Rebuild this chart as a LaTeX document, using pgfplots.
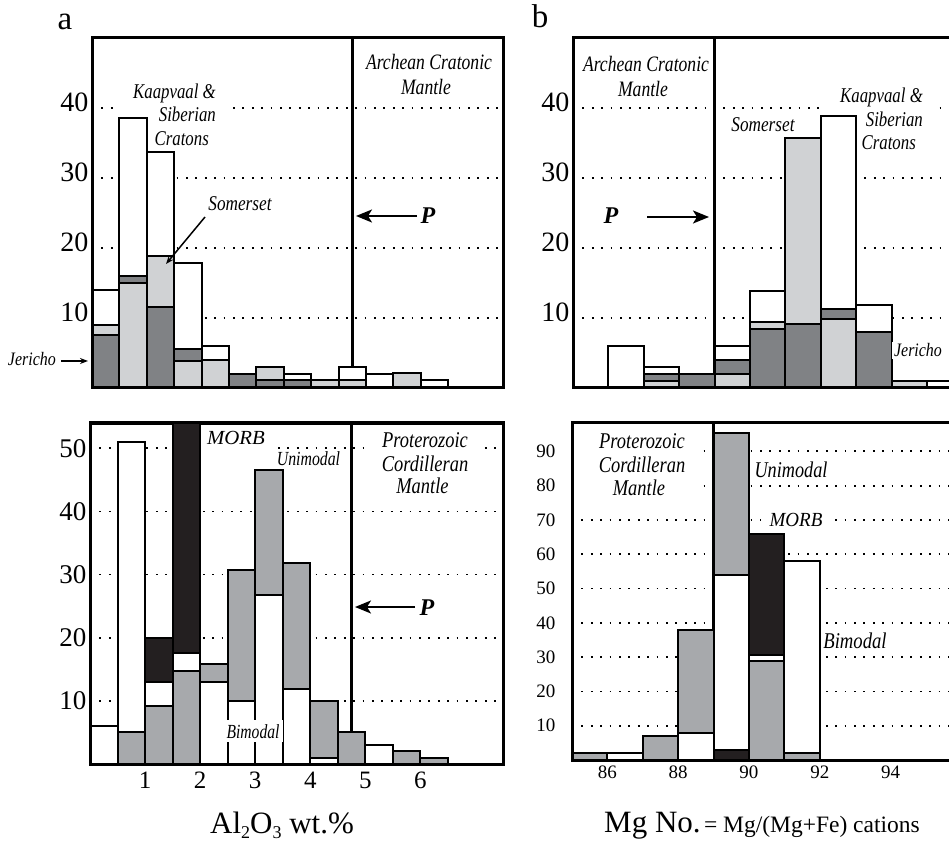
\documentclass[border=0pt]{standalone}
\usepackage{fontspec}
\setmainfont{Liberation Serif}
\usepackage{graphicx}
\usepackage{pgfplots}
\pgfplotsset{compat=1.18}
\usetikzlibrary{arrows.meta}
\definecolor{lg}{HTML}{D0D2D4}
\definecolor{dg}{HTML}{808285}
\definecolor{mg}{HTML}{A7A9AC}
\definecolor{bk}{HTML}{231F20}
\newcommand{\fs}[1]{\fontsize{#1}{#1}\selectfont}
\newcommand{\sx}[2][0.8]{\scalebox{#1}[1]{#2}}
\pgfplotsset{
  panel/.style={
    scale only axis, axis on top=false, ymin=0,
    major tick length=0pt,
    ymajorgrids,
    major grid style={line width=1.8pt, dash pattern=on 1.8pt off 7.6pt, black},
    axis line style={line width=3pt},
    xtick=\empty,
    /pgf/number format/assume math mode=true,
    clip=true,
  },
  b/.style={ybar, bar shift=0pt, draw=black, line width=2pt, fill=#1},
}
\tikzset{
  lab/.style={fill=white, inner sep=2pt, anchor=base, font=\fs{#1}\itshape},
  parr/.style={line width=2pt, -{Stealth[length=16pt,width=13pt,inset=4pt]}},
  sarr/.style={line width=1.5pt, -{Stealth[length=8pt,width=6pt]}},
}
\begin{document}
\begin{tikzpicture}[x=1pt,y=1pt]
% ---------- top-left ----------
\begin{axis}[panel, at={(92pt,453pt)}, anchor=south west, width=411pt, height=350pt,
  xmin=0, xmax=7.5, ymax=50, bar width=0.5, ytick={10,20,30,40},
  yticklabel style={font=\fs{28}, yshift=6pt}]
\addplot[line width=2.8pt] coordinates {(4.75,0) (4.75,50)};
\addplot[b=white] coordinates {(0.25,14) (0.75,38.6) (1.25,33.7) (1.75,17.9) (2.25,6) (3.75,2) (4.75,3) (5.25,2) (6.25,1.2)};
\addplot[b=dg] coordinates {(2.75,2)};
\addplot[b=lg] coordinates {(3.25,3) (4.25,1.1) (5.75,2.1)};
\addplot[b=lg] coordinates {(0.25,9) (1.25,18.8) (2.25,4) (4.75,1.2)};
\addplot[b=dg] coordinates {(0.75,16) (1.75,5.5) (3.25,1.1) (3.75,1.1)};
\addplot[b=dg] coordinates {(0.25,7.5) (1.25,11.6)};
\addplot[b=lg] coordinates {(0.75,15) (1.75,3.9)};
\end{axis}
% ---------- top-right ----------
\begin{axis}[panel, at={(573pt,453pt)}, anchor=south west, width=382pt, height=350pt,
  xmin=85, xmax=95.79, ymax=50, bar width=1, ytick={10,20,30,40},
  yticklabel style={font=\fs{28}, yshift=6pt}]
\addplot[line width=2.8pt] coordinates {(89,0) (89,50)};
\addplot[b=white] coordinates {(86.5,6) (87.5,3) (89.5,6) (90.5,13.8) (92.5,38.8) (93.5,11.8) (95.5,1)};
\addplot[b=dg] coordinates {(88.5,2)};
\addplot[b=lg] coordinates {(91.5,35.7) (94.5,1)};
\addplot[b=dg] coordinates {(87.5,2) (89.5,4) (91.5,9.2) (92.5,11.3) (93.5,8)};
\addplot[b=lg] coordinates {(90.5,9.4)};
\addplot[b=lg] coordinates {(87.5,1) (89.5,2) (92.5,9.8)};
\addplot[b=dg] coordinates {(90.5,8.4)};
\end{axis}
% ---------- bottom-left ----------
\begin{axis}[panel, at={(90pt,77pt)}, anchor=south west, width=413pt, height=341pt,
  xmin=0, xmax=7.5, ymax=54, bar width=0.5, ytick={10,20,30,40,50},
  xtick={1,2,3,4,5,6},
  yticklabel style={font=\fs{27}},
  xticklabel style={font=\fs{25}, yshift=-4.5pt}]
\addplot[line width=2.8pt] coordinates {(4.75,0) (4.75,54)};
\addplot[b=white] coordinates {(0.25,6) (0.75,51) (5.25,3)};
\addplot[b=bk] coordinates {(1.25,20) (1.75,60)};
\addplot[b=mg] coordinates {(2.25,15.8) (2.75,30.7) (3.25,46.6) (3.75,31.8) (4.25,9.9) (4.75,5) (5.75,2) (6.25,1)};
\addplot[b=mg] coordinates {(0.75,5)};
\addplot[b=white] coordinates {(1.25,13) (1.75,17.6) (2.25,13) (2.75,9.9) (3.25,26.7) (3.75,11.9) (4.25,1)};
\addplot[b=mg] coordinates {(1.25,9.2) (1.75,14.8)};
\end{axis}
% ---------- bottom-right ----------
\begin{axis}[panel, at={(572pt,81pt)}, anchor=south west, width=383pt, height=337.5pt,
  xmin=85, xmax=95.82, ymax=98.4, bar width=1, ytick={10,20,30,40,50,60,70,80,90},
  xtick={86,88,90,92,94},
  yticklabel style={font=\fs{19}, xshift=-13pt},
  xticklabel style={font=\fs{19}, yshift=-2.5pt}]
\addplot[line width=2.8pt] coordinates {(89,0) (89,98.4)};
\addplot[b=mg] coordinates {(85.5,2) (87.5,7) (88.5,38) (89.5,95.4)};
\addplot[b=white] coordinates {(86.5,2) (91.5,58)};
\addplot[b=bk] coordinates {(90.5,66)};
\addplot[b=white] coordinates {(88.5,8) (89.5,54) (90.5,30.5)};
\addplot[b=mg] coordinates {(91.5,2)};
\addplot[b=bk] coordinates {(89.5,3)};
\addplot[b=mg] coordinates {(90.5,29)};
\end{axis}
% ---------- frames ----------
\draw[line width=3pt] (92,453) rectangle (503,803);
\draw[line width=3pt] (573,453) rectangle (962,803);
\draw[line width=3pt] (90,77) rectangle (503,418);
\draw[line width=3pt] (572,81) rectangle (962,418.5);
% ---------- white label backgrounds ----------
\fill[white] (115,729) rectangle (227,761);
\fill[white] (820,729) rectangle (935,761);
\fill[white] (370,343) rectangle (482,416);
\fill[white] (580,341) rectangle (697,409);
% ---------- top-left labels ----------
\node[font=\fs{33}, anchor=base] at (65,811) {a};
\node[lab=22, inner sep=1pt] at (429,771) {\sx{Archean Cratonic}};
\node[lab=22, inner sep=1pt] at (426,746) {\sx{Mantle}};
\node[lab=21, anchor=base east] at (218,742) {\sx{Kaapvaal \&}};
\node[lab=21, anchor=base east] at (218,719) {\sx{Siberian}};
\node[lab=21, anchor=base east] at (211,695) {\sx{Cratons}};
\node[lab=21] at (240,630) {\sx[0.82]{Somerset}};
\draw[sarr] (205,624) -- (166,577);
\node[font=\fs{24}\bfseries\itshape, anchor=base] at (428,617) {P};
\draw[parr] (417,625) -- (356,625);
\node[lab=19, anchor=base east, fill=none] at (58,475) {\sx[0.84]{Jericho}};
\draw[sarr] (61,480) -- (88,480);
% ---------- top-right labels ----------
\node[font=\fs{33}, anchor=base] at (540,813) {b};
\node[lab=22, inner sep=1pt] at (646,769) {\sx{Archean Cratonic}};
\node[lab=22, inner sep=1pt] at (643,744) {\sx{Mantle}};
\node[font=\fs{24}\bfseries\itshape, anchor=base] at (611,617) {P};
\draw[parr] (647,624) -- (709,624);
\node[lab=21] at (763,709) {\sx[0.82]{Somerset}};
\node[lab=21, anchor=base east] at (925,738) {\sx{Kaapvaal \&}};
\node[lab=21, anchor=base east] at (925,714) {\sx{Siberian}};
\node[lab=21, anchor=base east] at (918,691) {\sx{Cratons}};
\node[lab=19] at (918,484) {\sx[0.84]{Jericho}};
% ---------- bottom-left labels ----------
\node[lab=20, inner sep=5pt] at (236,396) {\sx[1.04]{MORB}};
\node[lab=20, inner sep=1pt] at (308.5,375) {\sx[0.79]{Unimodal}};
\node[lab=22.5, fill=none] at (425,393) {\sx[0.82]{Proterozoic}};
\node[lab=22.5, fill=none] at (425,369) {\sx[0.82]{Cordilleran}};
\node[lab=22.5, fill=none] at (422.5,347) {\sx[0.82]{Mantle}};
\node[lab=20, inner sep=4pt] at (253,103) {\sx[0.78]{Bimodal}};
\node[font=\fs{24}\bfseries\itshape, anchor=base] at (427,226) {P};
\draw[parr] (415,234) -- (355,234);
\node[anchor=base, font=\fs{31}] at (282,8) {Al\raisebox{-0.18em}{\fs{18}2}O\raisebox{-0.18em}{\fs{18}3} wt.\%};
% ---------- bottom-right labels ----------
\node[lab=22.5, fill=none] at (642,392) {\sx[0.82]{Proterozoic}};
\node[lab=22.5, fill=none] at (642,368) {\sx[0.82]{Cordilleran}};
\node[lab=22.5, fill=none] at (639,345) {\sx[0.82]{Mantle}};
\node[lab=22.5, inner sep=1pt] at (791,363) {\sx[0.81]{Unimodal}};
\node[lab=20, inner xsep=9pt, inner ysep=3pt] at (796,315) {\sx[0.95]{MORB}};
\node[lab=22.5] at (855,193) {\sx[0.83]{Bimodal}};
\node[anchor=base] at (762,9) {{\fs{31}Mg No.} {\fs{23.5}= Mg/(Mg+Fe) cations}};
% ---------- bounding box ----------
\pgfresetboundingbox
\path[use as bounding box] (0,0) rectangle (949,841);
\end{tikzpicture}
\end{document}
